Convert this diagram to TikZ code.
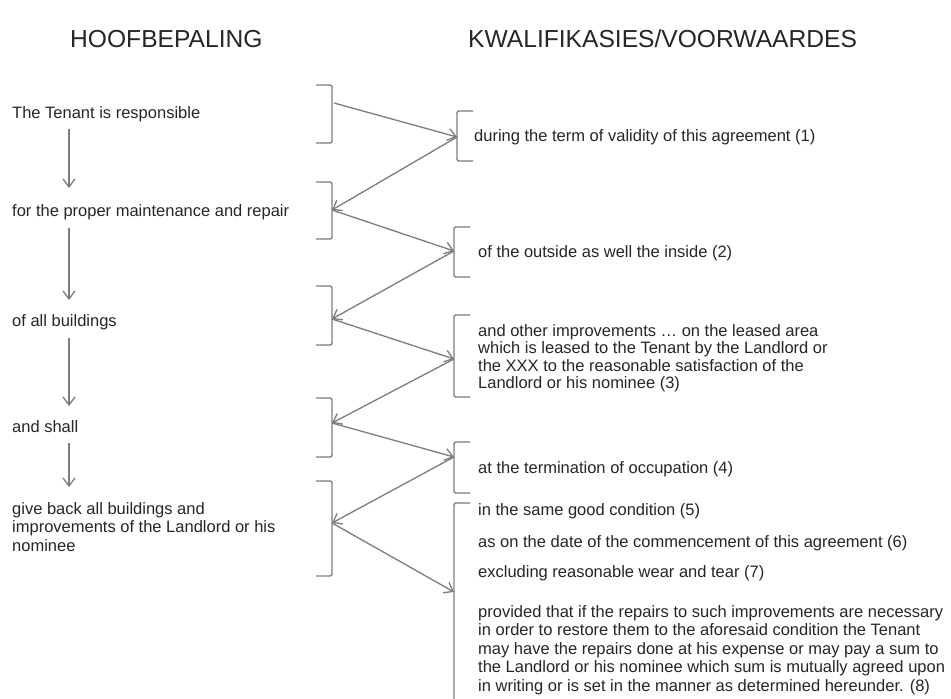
\documentclass[tikz,border=0pt]{standalone}
\usepackage{fontspec}
\setmainfont{Liberation Sans}
\usetikzlibrary{arrows.meta}
\definecolor{linegray}{RGB}{125,125,125}
\definecolor{txt}{RGB}{38,38,38}
\begin{document}
\begin{tikzpicture}[x=1pt,y=-1pt,
  head/.style={font=\fontsize{24.6}{28}\selectfont, text=txt, inner sep=0pt, anchor=west},
  body/.style={font=\fontsize{16.5}{18.5}\selectfont, text=txt, inner sep=0pt, anchor=west, align=left},
  brk/.style={draw=linegray, line width=1.4pt, rounded corners=2pt},
  conn/.style={draw=linegray, line width=1.3pt, -{Straight Barb[length=8pt,width=12pt,line width=1.3pt]}}]
\useasboundingbox[fill=white] (0,0) rectangle (951,699);

% headers
\node[head] (h1) at (70,39) {HOOFBEPALING};
\node[head] (h2) at (468,39) {KWALIFIKASIES/VOORWAARDES};

% left column
\node[body] (t1) at (12,114) {The Tenant is responsible};
\node[body] (t2) at (12,212) {for the proper maintenance and repair};
\node[body] (t3) at (12,322) {of all buildings};
\node[body] (t4) at (12,427) {and shall};
\node[body] (t5) at (12,527) {give back all buildings and\\improvements of the Landlord or his\\nominee};

\coordinate (v1a) at (69,129); \coordinate (v1b) at (69,188);
\coordinate (v2a) at (69,228); \coordinate (v2b) at (69,300);
\coordinate (v3a) at (69,338); \coordinate (v3b) at (69,406);
\coordinate (v4a) at (69,443); \coordinate (v4b) at (69,487);
\draw[conn] (v1a) -- (v1b);
\draw[conn] (v2a) -- (v2b);
\draw[conn] (v3a) -- (v3b);
\draw[conn] (v4a) -- (v4b);

% right column
\node[body] (q1) at (474,137) {during the term of validity of this agreement (1)};
\node[body] (q2) at (478,253) {of the outside as well the inside (2)};
\node[body, font=\fontsize{16.5}{17.5}\selectfont] (q3) at (478,358) {and other improvements … on the leased area\\which is leased to the Tenant by the Landlord or\\the XXX to the reasonable satisfaction of the\\Landlord or his nominee (3)};
\node[body] (q4) at (478,469) {at the termination of occupation (4)};
\node[body] (q5) at (478,511) {in the same good condition (5)};
\node[body] (q6) at (478,543) {as on the date of the commencement of this agreement (6)};
\node[body] (q7) at (478,573) {excluding reasonable wear and tear (7)};
\node[body] (q8) at (478,650) {provided that if the repairs to such improvements are necessary\\in order to restore them to the aforesaid condition the Tenant\\may have the repairs done at his expense or may pay a sum to\\the Landlord or his nominee which sum is mutually agreed upon\\in writing or is set in the manner as determined hereunder. (8)};

% left brackets
\draw[brk] (316,85) -- (332,85) -- (332,143) -- (316,143);
\draw[brk] (316,182) -- (332,182) -- (332,239) -- (316,239);
\draw[brk] (316,286) -- (332,286) -- (332,345) -- (316,345);
\draw[brk] (316,398) -- (332,398) -- (332,457) -- (316,457);
\draw[brk] (316,481) -- (332,481) -- (332,576) -- (316,576);

% right brackets
\draw[brk] (473,111) -- (457,111) -- (457,161) -- (473,161);
\draw[brk] (470,227) -- (454,227) -- (454,277) -- (470,277);
\draw[brk] (470,315) -- (454,315) -- (454,397) -- (470,397);
\draw[brk] (470,442) -- (454,442) -- (454,493) -- (470,493);
\draw[brk] (470,503) -- (454,503) -- (454,702);

% bracket tips
\coordinate (L1) at (334,103);
\coordinate (R1) at (457,137);
\coordinate (L2) at (332,210);
\coordinate (R2) at (454,251);
\coordinate (L3) at (332,319);
\coordinate (R3) at (454,359);
\coordinate (L4) at (332,423);
\coordinate (R4) at (454,457);
\coordinate (L5) at (332,523);
\coordinate (R5) at (454,592);

\draw[conn] (L1) -- (R1);
\draw[conn] (R1) -- (L2);
\draw[conn] (L2) -- (R2);
\draw[conn] (R2) -- (L3);
\draw[conn] (L3) -- (R3);
\draw[conn] (R3) -- (L4);
\draw[conn] (L4) -- (R4);
\draw[conn] (R4) -- (L5);
\draw[conn] (L5) -- (R5);
\end{tikzpicture}
\end{document}
